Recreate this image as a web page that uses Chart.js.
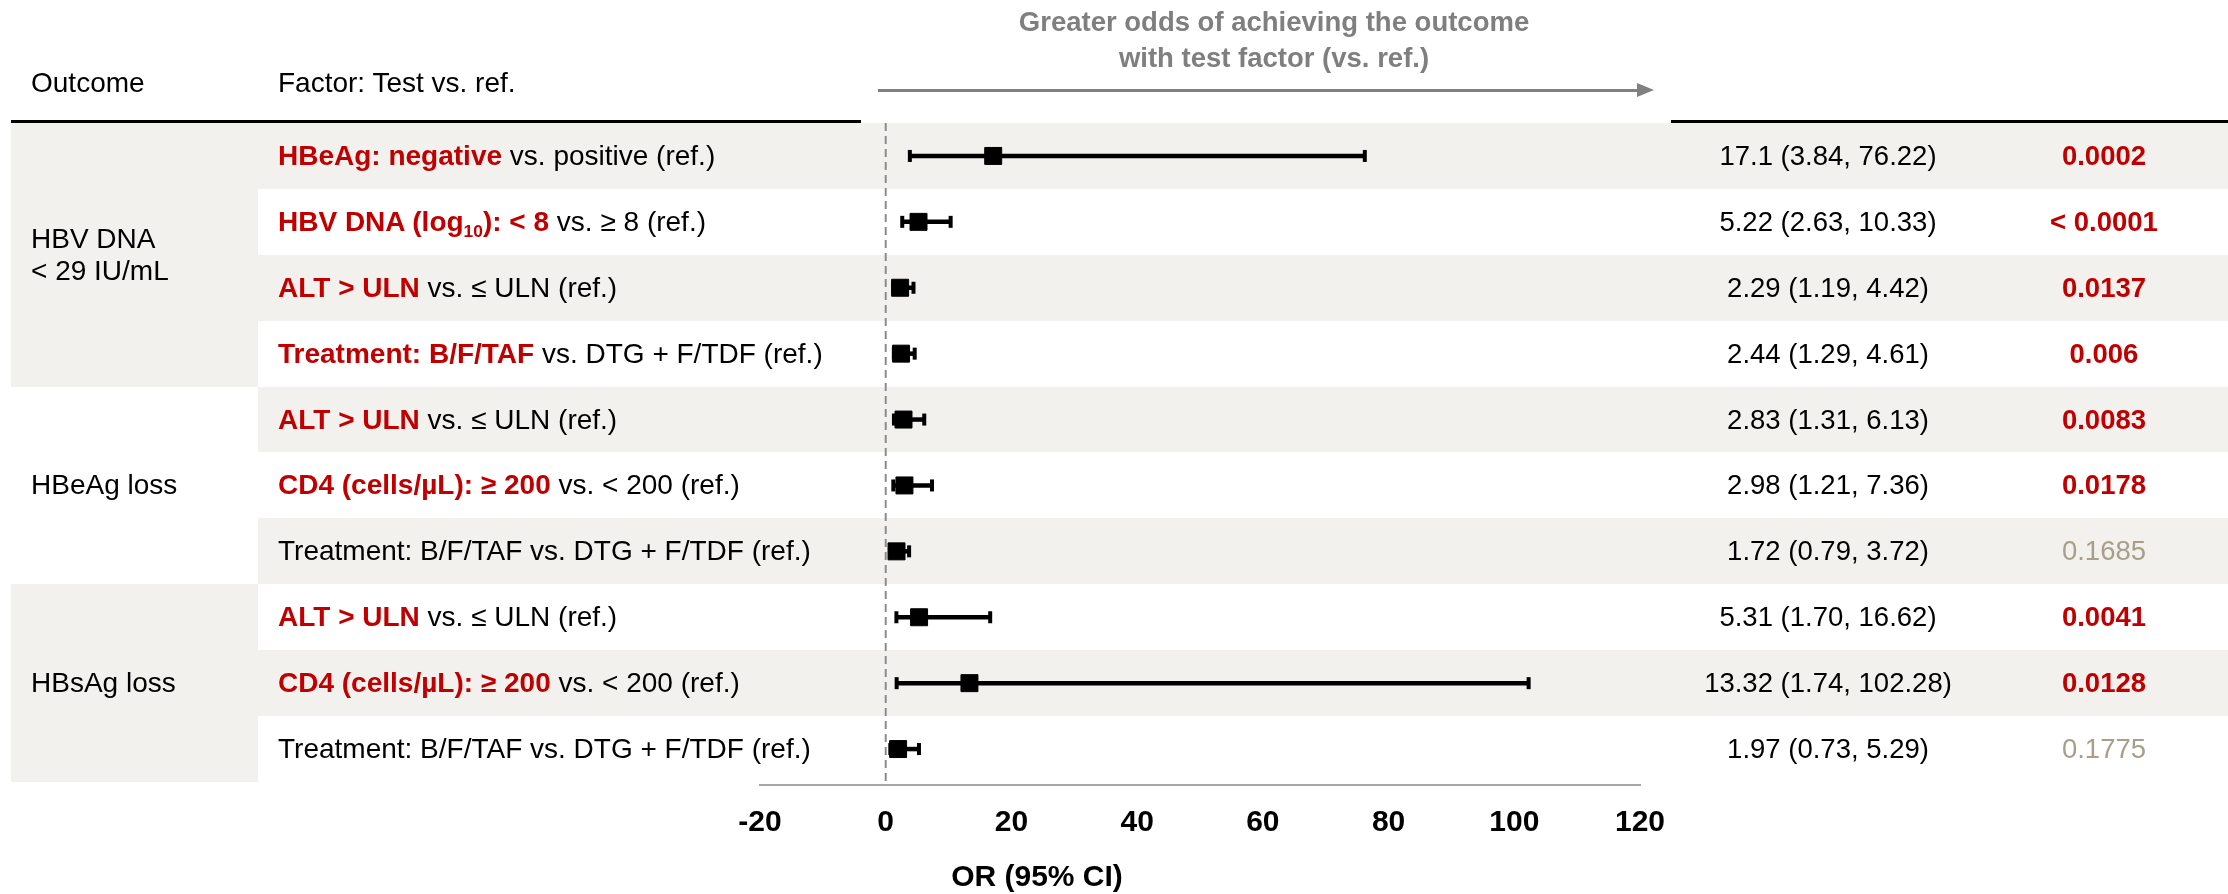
<!DOCTYPE html>
<html>
<head>
<meta charset="utf-8">
<title>Forest plot</title>
<script src="https://cdn.jsdelivr.net/npm/chart.js@4.4.1/dist/chart.umd.min.js"></script>
<style>
    body { margin: 0; background: #fff; font-family: "Liberation Sans", Arial, sans-serif; }
    #page { position: relative; width: 2228px; height: 894px; overflow: hidden; }
    .band { position: absolute; background: #f2f1ee; }
    .cell { position: absolute; display: flex; align-items: center; font-size: 28px; color: #000; white-space: nowrap; }
    .num { font-size: 27.5px; justify-content: center; }
    .hl { color: #c00000; font-weight: bold; }
    sub { font-size: 0.62em; line-height: 0; vertical-align: -0.35em; }
    #chart { position: absolute; left: 0; top: 0; }
</style>
</head>
<body>
<div id="page">
    <canvas id="chart" width="2228" height="894"></canvas>
</div>
<script>
/* Dados */
const outcomeNames = ['HBV DNA\n< 29 IU/mL', 'HBeAg loss', 'HBsAg loss'];
const outcomeRows = [4, 3, 3];

const factorTest = [
    'HBeAg: negative',
    'HBV DNA (log10): < 8',
    'ALT > ULN',
    'Treatment: B/F/TAF',
    'ALT > ULN',
    'CD4 (cells/µL): ≥ 200',
    'Treatment: B/F/TAF',
    'ALT > ULN',
    'CD4 (cells/µL): ≥ 200',
    'Treatment: B/F/TAF'
];
const factorRef = [
    'vs. positive (ref.)',
    'vs. ≥ 8 (ref.)',
    'vs. ≤ ULN (ref.)',
    'vs. DTG + F/TDF (ref.)',
    'vs. ≤ ULN (ref.)',
    'vs. < 200 (ref.)',
    'vs. DTG + F/TDF (ref.)',
    'vs. ≤ ULN (ref.)',
    'vs. < 200 (ref.)',
    'vs. DTG + F/TDF (ref.)'
];

const oddsRatio = [17.1, 5.22, 2.29, 2.44, 2.83, 2.98, 1.72, 5.31, 13.32, 1.97];
const ciLow = [3.84, 2.63, 1.19, 1.29, 1.31, 1.21, 0.79, 1.70, 1.74, 0.73];
const ciHigh = [76.22, 10.33, 4.42, 4.61, 6.13, 7.36, 3.72, 16.62, 102.28, 5.29];
const orLabels = [
    '17.1 (3.84, 76.22)', '5.22 (2.63, 10.33)', '2.29 (1.19, 4.42)', '2.44 (1.29, 4.61)',
    '2.83 (1.31, 6.13)', '2.98 (1.21, 7.36)', '1.72 (0.79, 3.72)', '5.31 (1.70, 16.62)',
    '13.32 (1.74, 102.28)', '1.97 (0.73, 5.29)'
];
const pValues = ['0.0002', '< 0.0001', '0.0137', '0.006', '0.0083', '0.0178', '0.1685', '0.0041', '0.0128', '0.1775'];

const xTicks = [-20, 0, 20, 40, 60, 80, 100, 120];
const titleLines = ['Greater odds of achieving the outcome', 'with test factor (vs. ref.)'];
const xTitle = 'OR (95% CI)';

/* Layout */
const rowTop = 123;
const rowH = 65.9;
const axisY = 785;
const yMax = (axisY - rowTop) / rowH;
const page = document.getElementById('page');

function esc(s) {
    return s.replace(/&/g, '&amp;').replace(/</g, '&lt;').replace(/>/g, '&gt;');
}

function add(cls, style, html) {
    let el = document.createElement('div');
    if (cls) el.className = cls;
    el.style.cssText = style;
    if (html != null) el.innerHTML = html;
    page.appendChild(el);
    return el;
}

function isSignificant(p) {
    return parseFloat(p.replace('<', '').trim()) < 0.05;
}

/* Faixas de fundo */
for (let i = 0; i < oddsRatio.length; i += 2) {
    add('band', `left:258px;width:1970px;top:${rowTop + i * rowH}px;height:${rowH}px;`);
}
let start = 0;
outcomeRows.forEach((n, g) => {
    if (g % 2 == 0) add('band', `left:11px;width:247px;top:${rowTop + start * rowH}px;height:${n * rowH}px;`);
    start += n;
});
page.appendChild(document.getElementById('chart'));

/* Cabeçalho */
add('cell', 'left:31px;top:63px;height:40px;', 'Outcome');
add('cell', 'left:278px;top:63px;height:40px;', 'Factor: Test vs. ref.');
add('', 'position:absolute;left:11px;width:850px;top:120px;height:2.5px;background:#000;');
add('', 'position:absolute;left:1671px;width:557px;top:120px;height:2.5px;background:#000;');
add('', 'position:absolute;left:874px;width:800px;top:4px;text-align:center;font-weight:bold;font-size:27.5px;line-height:36px;color:#7f7f7f;',
    titleLines.map(esc).join('<br>'));
add('', 'position:absolute;left:878px;width:760px;top:88.5px;height:3px;background:#808080;');
add('', 'position:absolute;left:1637px;top:82.5px;width:0;height:0;border-left:17px solid #808080;border-top:7.5px solid transparent;border-bottom:7.5px solid transparent;');
add('', 'position:absolute;left:837px;width:400px;top:858px;text-align:center;font-weight:bold;font-size:30px;line-height:36px;', esc(xTitle));

/* Colunas de texto */
start = 0;
outcomeNames.forEach((name, g) => {
    add('cell', `left:31px;top:${rowTop + start * rowH}px;height:${outcomeRows[g] * rowH}px;line-height:32px;`,
        name.split('\n').map(esc).join('<br>'));
    start += outcomeRows[g];
});

for (let i = 0; i < oddsRatio.length; i++) {
    let top = rowTop + i * rowH;
    let sig = isSignificant(pValues[i]);
    let test = esc(factorTest[i]).replace('log10', 'log<sub>10</sub>');
    add('cell', `left:278px;top:${top}px;height:${rowH}px;`,
        (sig ? `<span class="hl">${test}</span>` : test) + '&nbsp;' + esc(factorRef[i]));
    add('cell num', `left:1628px;width:400px;top:${top}px;height:${rowH}px;`, esc(orLabels[i]));
    add('cell num', `left:2004px;width:200px;top:${top}px;height:${rowH}px;` +
        (sig ? 'color:#c00000;font-weight:bold;' : 'color:#a89f8a;'), esc(pValues[i]));
}

/* Gráfico */
let rowY = oddsRatio.map((v, i) => i + 0.5);

let ciDatasets = oddsRatio.map((v, i) => ({
    type: 'line',
    data: [{ x: ciLow[i], y: rowY[i] }, { x: ciHigh[i], y: rowY[i] }],
    borderColor: '#000',
    borderWidth: 4.5,
    pointRadius: 0,
    order: 2
}));

let chart = new Chart(document.getElementById('chart'), {
    type: 'scatter',
    data: {
        datasets: [
            {
                data: oddsRatio.map((v, i) => ({ x: v, y: rowY[i] })),
                pointStyle: 'rect',
                pointRadius: 12,
                backgroundColor: '#000',
                borderColor: '#000',
                borderWidth: 1,
                order: 0
            },
            {
                data: ciLow.map((v, i) => ({ x: v, y: rowY[i] })).concat(ciHigh.map((v, i) => ({ x: v, y: rowY[i] }))),
                pointStyle: 'line',
                rotation: 90,
                pointRadius: 6,
                borderColor: '#000',
                borderWidth: 4,
                order: 1
            },
            ...ciDatasets,
            {
                type: 'line',
                data: [{ x: 0, y: 0 }, { x: 0, y: yMax }],
                borderColor: '#8c8c8c',
                borderWidth: 2,
                borderDash: [8, 5],
                pointRadius: 0,
                order: 3
            }
        ]
    },
    options: {
        responsive: false,
        devicePixelRatio: 1,
        animation: false,
        events: [],
        layout: {
            // a altura do eixo x conta o padding dos ticks duas vezes
            padding: { left: 760, right: 588, top: rowTop, bottom: 33 }
        },
        plugins: {
            legend: { display: false },
            tooltip: { enabled: false }
        },
        scales: {
            x: {
                type: 'linear',
                min: xTicks[0],
                max: xTicks[xTicks.length - 1],
                afterBuildTicks: (axis) => { axis.ticks = xTicks.map(v => ({ value: v })); },
                grid: { display: false, drawTicks: false },
                border: { display: true, color: '#a6a6a6', width: 2 },
                ticks: {
                    padding: 20,
                    color: '#000',
                    maxRotation: 0,
                    font: { family: '"Liberation Sans", Arial, sans-serif', size: 30, weight: 'bold' }
                }
            },
            y: {
                type: 'linear',
                display: false,
                reverse: true,
                min: 0,
                max: yMax
            }
        }
    }
});
</script>
</body>
</html>
